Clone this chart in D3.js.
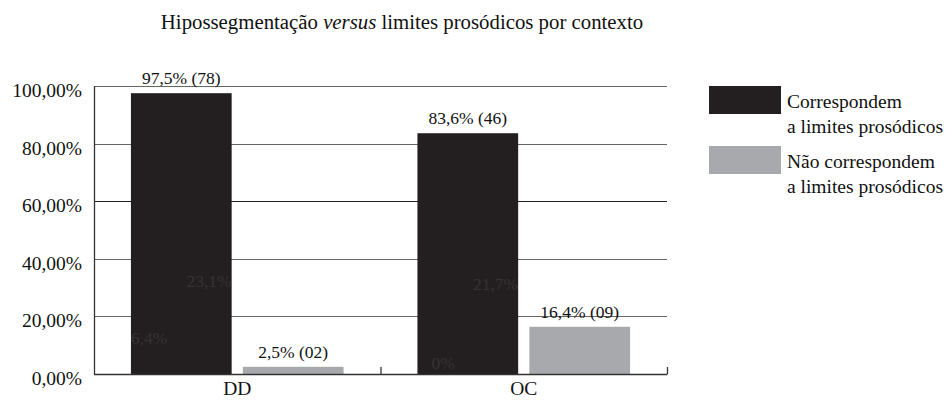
<!DOCTYPE html>
<html>
<head>
<meta charset="utf-8">
<script src="https://cdn.jsdelivr.net/npm/d3@7"></script>
<style>
  body { margin: 0; background: #fff; }
  text { font-family: "Liberation Serif", "DejaVu Serif", serif; }
</style>
</head>
<body>
<svg id="chart" width="951" height="400"></svg>
<script>
// categories and series
const contexts = ["DD", "OC"];
const seriesNames = ["Correspondem\na limites prosódicos", "Não correspondem\na limites prosódicos"];
const corresponde = [97.5, 83.6];
const naoCorresponde = [2.5, 16.4];
const correspondeLabels = ["97,5% (78)", "83,6% (46)"];
const naoCorrespondeLabels = ["2,5% (02)", "16,4% (09)"];
// stray labels left inside the dark bars
const innerLow = ["6,4%", "0%"];
const innerMid = ["23,1%", "21,7%"];
const yTicks = [0, 20, 40, 60, 80, 100];

const colors = ["#231f20", "#a7a9ac"];

const svg = d3.select("#chart");
const margin = { left: 94, right: 284, top: 86, bottom: 26 };
const width = 951, height = 400;

const x = d3.scaleBand()
  .domain(contexts)
  .range([margin.left, width - margin.right])
  .paddingInner(0)
  .paddingOuter(0);

const inner = d3.scaleBand()
  .domain([0, 1])
  .range([0, x.bandwidth()])
  .paddingInner(0.1)
  .paddingOuter(0.33);

const y = d3.scaleLinear()
  .domain([0, 100])
  .range([height - margin.bottom, margin.top]);

// title
const title = svg.append("text")
  .attr("x", 402)
  .attr("y", 29)
  .attr("text-anchor", "middle")
  .attr("font-size", 20.8)
  .attr("fill", "#111");
title.append("tspan").text("Hipossegmentação ");
title.append("tspan").attr("font-style", "italic").text("versus");
title.append("tspan").text(" limites prosódicos por contexto");

// gridlines
svg.append("g")
  .selectAll("line")
  .data(yTicks.filter(d => d > 0))
  .enter()
  .append("line")
  .attr("x1", margin.left)
  .attr("x2", width - margin.right)
  .attr("y1", d => Math.round(y(d)) + 0.5)
  .attr("y2", d => Math.round(y(d)) + 0.5)
  .attr("stroke", d => d === 60 ? "#222" : "#666")
  .attr("stroke-width", 1.2);

// y axis labels
svg.append("g")
  .selectAll("text")
  .data(yTicks)
  .enter()
  .append("text")
  .attr("x", 82)
  .attr("y", d => y(d) + 11)
  .attr("text-anchor", "end")
  .attr("font-size", 19.5)
  .attr("fill", "#111")
  .text(d => d3.format(".2f")(d).replace(".", ",") + "%");

// bars
const groups = svg.append("g")
  .selectAll("g")
  .data(contexts)
  .enter()
  .append("g")
  .attr("transform", d => `translate(${x(d)},0)`);

groups.append("rect")
  .attr("x", inner(0))
  .attr("width", inner.bandwidth())
  .attr("y", (d, i) => y(corresponde[i]))
  .attr("height", (d, i) => y(0) - y(corresponde[i]))
  .attr("fill", colors[0]);

groups.append("rect")
  .attr("x", inner(1))
  .attr("width", inner.bandwidth())
  .attr("y", (d, i) => y(naoCorresponde[i]))
  .attr("height", (d, i) => y(0) - y(naoCorresponde[i]))
  .attr("fill", colors[1]);

// value labels
groups.append("text")
  .attr("x", inner(0) + inner.bandwidth() / 2)
  .attr("y", (d, i) => y(corresponde[i]) - 9)
  .attr("text-anchor", "middle")
  .attr("font-size", 17.5)
  .attr("fill", "#111")
  .text((d, i) => correspondeLabels[i]);

groups.append("text")
  .attr("x", inner(1) + inner.bandwidth() / 2)
  .attr("y", (d, i) => y(naoCorresponde[i]) - 9)
  .attr("text-anchor", "middle")
  .attr("font-size", 17.5)
  .attr("fill", "#111")
  .text((d, i) => naoCorrespondeLabels[i]);

groups.append("text")
  .attr("x", (d, i) => inner(0) + (i === 0 ? 0 : 14))
  .attr("y", (d, i) => i === 0 ? 344 : 369)
  .attr("font-size", 17.5)
  .attr("fill", "#363233")
  .text((d, i) => innerLow[i]);

groups.append("text")
  .attr("x", inner(0) + inner.bandwidth())
  .attr("y", (d, i) => i === 0 ? 287 : 290)
  .attr("text-anchor", "end")
  .attr("font-size", 17.5)
  .attr("fill", "#363233")
  .text((d, i) => innerMid[i]);

// axes lines
const axisG = svg.append("g").attr("stroke", "#333").attr("stroke-width", 1.3);
axisG.append("line")
  .attr("x1", margin.left + 0.5).attr("x2", margin.left + 0.5)
  .attr("y1", y(100)).attr("y2", y(0) + 0.5);
axisG.append("line")
  .attr("x1", margin.left).attr("x2", width - margin.right + 0.5)
  .attr("y1", y(0) + 0.5).attr("y2", y(0) + 0.5);
axisG.selectAll(".tick")
  .data(contexts.slice(1).concat(["end"]))
  .enter()
  .append("line")
  .attr("x1", d => (d === "end" ? width - margin.right : x(d)) + 0.5)
  .attr("x2", d => (d === "end" ? width - margin.right : x(d)) + 0.5)
  .attr("y1", y(0) - 7)
  .attr("y2", y(0));

// category labels
svg.append("g")
  .selectAll("text")
  .data(contexts)
  .enter()
  .append("text")
  .attr("x", d => x(d) + x.bandwidth() / 2)
  .attr("y", 395)
  .attr("text-anchor", "middle")
  .attr("font-size", 19.5)
  .attr("fill", "#111")
  .text(d => d);

// legend
const legend = svg.append("g")
  .selectAll("g")
  .data(seriesNames)
  .enter()
  .append("g")
  .attr("transform", (d, i) => `translate(709,${86 + i * 60})`);

legend.append("rect")
  .attr("width", 72)
  .attr("height", 28)
  .attr("fill", (d, i) => colors[i]);

legend.append("text")
  .attr("x", 78)
  .attr("y", 22)
  .attr("font-size", 19.5)
  .attr("fill", "#111")
  .selectAll("tspan")
  .data(d => d.split("\n"))
  .enter()
  .append("tspan")
  .attr("x", 78)
  .attr("dy", (d, i) => i === 0 ? 0 : 25)
  .text(d => d);
</script>
</body>
</html>
